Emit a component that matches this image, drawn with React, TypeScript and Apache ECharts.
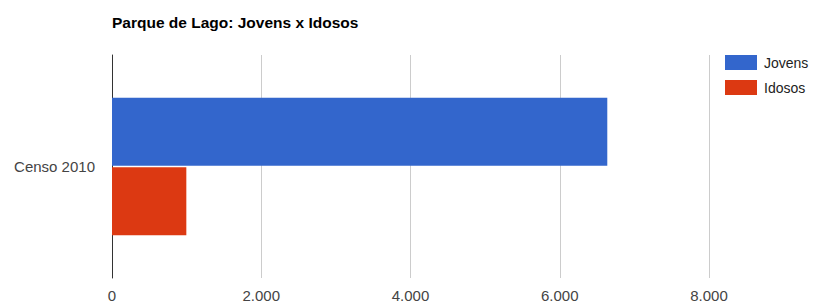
import React, { useEffect, useRef } from "react";
import * as echarts from "echarts";

const categories = ["Censo 2010"];
const jovens = [6637];
const idosos = [996];
const xTicks = [0, 2000, 4000, 6000, 8000];
const titleText = "Parque de Lago: Jovens x Idosos";

const fmt = (v: number) => String(v).replace(/\B(?=(\d{3})+(?!\d))/g, ".");

export default function App() {
  const ref = useRef<HTMLDivElement>(null);
  useEffect(() => {
    document.body.style.margin = "0";
    const chart = echarts.init(ref.current!, null, { renderer: "svg" });
    chart.setOption({
      animation: false,
      textStyle: { fontFamily: "Liberation Sans, Arial, sans-serif" },
      title: {
        text: titleText,
        left: 107,
        top: 9,
        textStyle: { fontSize: 15.5, fontWeight: "bold", color: "#000", fontFamily: "Liberation Sans, Arial, sans-serif" },
      },
      legend: {
        orient: "vertical",
        left: 720,
        top: 50,
        itemWidth: 32,
        itemHeight: 15,
        itemGap: 10,
        icon: "rect",
        textStyle: { fontSize: 14, color: "#222", padding: [0, 0, 0, 2] },
        data: ["Jovens", "Idosos"],
      },
      grid: { left: 112, right: 105, top: 55, bottom: 27, containLabel: false },
      xAxis: {
        type: "value",
        min: xTicks[0],
        max: xTicks[xTicks.length - 1],
        interval: xTicks[1] - xTicks[0],
        axisLine: { show: false },
        axisTick: { show: false },
        splitLine: { lineStyle: { color: "#cccccc", width: 1 } },
        axisLabel: { fontSize: 15, color: "#444", margin: 10, formatter: (v: number) => fmt(v) },
      },
      yAxis: {
        type: "category",
        data: categories,
        axisTick: { show: false },
        axisLine: { show: true, lineStyle: { color: "#333", width: 1 } },
        axisLabel: { fontSize: 15, color: "#444", margin: 17 },
      },
      series: [
        {
          name: "Jovens",
          type: "bar",
          data: jovens,
          barWidth: 68,
          barGap: "2%",
          itemStyle: { color: "#3366cc" },
        },
        {
          name: "Idosos",
          type: "bar",
          data: idosos,
          barWidth: 68,
          barGap: "2%",
          itemStyle: { color: "#dc3912" },
        },
      ],
    });
    return () => chart.dispose();
  }, []);
  return <div ref={ref} style={{ width: 814, height: 305 }} />;
}
